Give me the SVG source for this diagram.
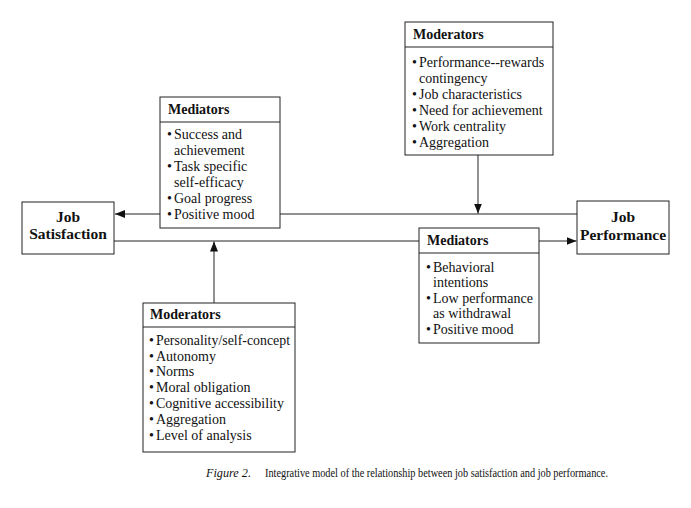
<svg xmlns="http://www.w3.org/2000/svg" width="691" height="508" viewBox="0 0 691 508">
<style>
  .box { fill: #fff; stroke: #222; stroke-width: 1; }
  .div { stroke: #222; stroke-width: 1; }
  .conn { stroke: #222; stroke-width: 1; fill: none; }
  .hdr { font-family: "Liberation Serif", "Times New Roman", serif; font-weight: bold; font-size: 14px; fill: #111; }
  .itm { font-family: "Liberation Serif", "Times New Roman", serif; font-size: 14px; fill: #111; }
  .main { font-family: "Liberation Serif", "Times New Roman", serif; font-weight: bold; font-size: 15.5px; fill: #111; text-anchor: middle; }
  .cap { font-family: "Liberation Serif", "Times New Roman", serif; font-size: 12px; fill: #111; }
</style>
<defs>
  <marker id="arr" markerUnits="userSpaceOnUse" markerWidth="10" markerHeight="8" refX="10" refY="4" orient="auto">
    <path d="M0,0 L10,4 L0,8 z" fill="#111"/>
  </marker>
</defs>
<rect width="691" height="508" fill="#fff"/>

<g id="connectors">
  <line class="conn" x1="577" y1="214" x2="115" y2="214" marker-end="url(#arr)"/>
  <line class="conn" x1="478" y1="155" x2="478" y2="213.5" marker-end="url(#arr)"/>
  <line class="conn" x1="114" y1="241" x2="576.5" y2="241" marker-end="url(#arr)"/>
  <line class="conn" x1="214" y1="303" x2="214" y2="241.5" marker-end="url(#arr)"/>
</g>

<g id="job-satisfaction">
  <rect class="box" x="22" y="202" width="92" height="52"/>
  <text class="main" x="68" y="222">Job</text>
  <text class="main" x="68" y="239">Satisfaction</text>
</g>

<g id="job-performance">
  <rect class="box" x="577" y="201" width="92" height="53"/>
  <text class="main" x="623" y="222">Job</text>
  <text class="main" x="623" y="240">Performance</text>
</g>

<g id="mediators-top">
  <rect class="box" x="160" y="97" width="120" height="131"/>
  <line class="div" x1="160" y1="122" x2="280" y2="122"/>
  <text class="hdr" x="168" y="114">Mediators</text>
  <text class="itm" x="167" y="139">•</text><text class="itm" x="174" y="139">Success and</text>
  <text class="itm" x="174" y="155">achievement</text>
  <text class="itm" x="167" y="171">•</text><text class="itm" x="174" y="171">Task specific</text>
  <text class="itm" x="174" y="187">self-efficacy</text>
  <text class="itm" x="167" y="203">•</text><text class="itm" x="174" y="203">Goal progress</text>
  <text class="itm" x="167" y="219">•</text><text class="itm" x="174" y="219">Positive mood</text>
</g>

<g id="moderators-top">
  <rect class="box" x="405" y="22" width="148" height="133"/>
  <line class="div" x1="405" y1="47" x2="553" y2="47"/>
  <text class="hdr" x="413" y="39">Moderators</text>
  <text class="itm" x="412" y="67">•</text><text class="itm" x="419" y="67">Performance--rewards</text>
  <text class="itm" x="419" y="83">contingency</text>
  <text class="itm" x="412" y="99">•</text><text class="itm" x="419" y="99">Job characteristics</text>
  <text class="itm" x="412" y="115">•</text><text class="itm" x="419" y="115">Need for achievement</text>
  <text class="itm" x="412" y="131">•</text><text class="itm" x="419" y="131">Work centrality</text>
  <text class="itm" x="412" y="147">•</text><text class="itm" x="419" y="147">Aggregation</text>
</g>

<g id="mediators-bottom">
  <rect class="box" x="419" y="228" width="120" height="115"/>
  <line class="div" x1="419" y1="253" x2="539" y2="253"/>
  <text class="hdr" x="427" y="245">Mediators</text>
  <text class="itm" x="426" y="272">•</text><text class="itm" x="433" y="272">Behavioral</text>
  <text class="itm" x="433" y="287">intentions</text>
  <text class="itm" x="426" y="303">•</text><text class="itm" x="433" y="303">Low performance</text>
  <text class="itm" x="433" y="318">as withdrawal</text>
  <text class="itm" x="426" y="334">•</text><text class="itm" x="433" y="334">Positive mood</text>
</g>

<g id="moderators-bottom">
  <rect class="box" x="143" y="303" width="152" height="149"/>
  <line class="div" x1="143" y1="327" x2="295" y2="327"/>
  <text class="hdr" x="150" y="319">Moderators</text>
  <text class="itm" x="149" y="345">•</text><text class="itm" x="156" y="345" textLength="134" lengthAdjust="spacingAndGlyphs">Personality/self-concept</text>
  <text class="itm" x="149" y="361">•</text><text class="itm" x="156" y="361">Autonomy</text>
  <text class="itm" x="149" y="376">•</text><text class="itm" x="156" y="376">Norms</text>
  <text class="itm" x="149" y="392">•</text><text class="itm" x="156" y="392">Moral obligation</text>
  <text class="itm" x="149" y="408">•</text><text class="itm" x="156" y="408">Cognitive accessibility</text>
  <text class="itm" x="149" y="424">•</text><text class="itm" x="156" y="424">Aggregation</text>
  <text class="itm" x="149" y="440">•</text><text class="itm" x="156" y="440">Level of analysis</text>
</g>

<g id="caption">
  <text class="cap" x="206" y="477" font-style="italic" textLength="45" lengthAdjust="spacingAndGlyphs">Figure 2.</text>
  <text class="cap" x="265" y="477" textLength="343" lengthAdjust="spacingAndGlyphs">Integrative model of the relationship between job satisfaction and job performance.</text>
</g>
</svg>
